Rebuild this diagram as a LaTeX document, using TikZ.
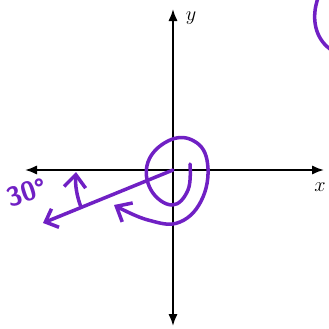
\documentclass[tikz,border=0pt]{standalone}
\usepackage{amsmath}
\usepackage{tikz}
\usetikzlibrary{arrows.meta}
\definecolor{penpurple}{RGB}{112,32,196}

\begin{document}
\begin{tikzpicture}[>=Latex,x=0.03cm,y=-0.03cm,pen/.style={draw=penpurple,line width=3pt,line cap=round,line join=round}]
\useasboundingbox (0,0) rectangle (328,329);
\coordinate (org) at (173,170);
\coordinate (xneg) at (25,170);
\coordinate (xpos) at (324,170);
\coordinate (ytop) at (173,9);
\coordinate (ybot) at (173,326);
\draw[line width=1.7pt,{Latex[length=3.6mm,width=2.8mm]}-{Latex[length=3.6mm,width=2.8mm]}] (xneg)--(xpos);
\draw[line width=1.7pt,{Latex[length=3.6mm,width=2.8mm]}-{Latex[length=3.6mm,width=2.8mm]}] (ybot)--(ytop);
\node[font=\LARGE,inner sep=0pt] (xlab) at (320,187) {$x$};
\node[font=\LARGE,inner sep=0pt] (ylab) at (191,18) {$y$};
\coordinate (raytip) at (43,223);
\draw[pen,-{Straight Barb[length=3.2mm,width=6mm]}] (org)--(raytip);
\coordinate (arcbot) at (81,207);
\coordinate (arctop) at (76,172);
\draw[pen,-{Straight Barb[length=3.8mm,width=6.5mm]}] (arcbot) .. controls (77,197) and (75,185) .. (arctop);
\coordinate (spinner) at (190,164);
\coordinate (spinend) at (114,205);
\draw[pen,-{Straight Barb[length=3.8mm,width=6.5mm]}] plot[smooth,tension=0.7] coordinates {(spinner) (188,190) (172,205) (151,190) (148,162) (168,141) (192,140) (207,160) (203,197) (180,222) (148,220) (spinend)};
\node[text=penpurple,font=\sffamily\bfseries\fontsize{23}{26}\selectfont,rotate=18,inner sep=0pt] (anglab) at (27,192) {30°};
\draw[pen] (318,-2) .. controls (311,18) and (315,38) .. (330,49);
\end{tikzpicture}
\end{document}
